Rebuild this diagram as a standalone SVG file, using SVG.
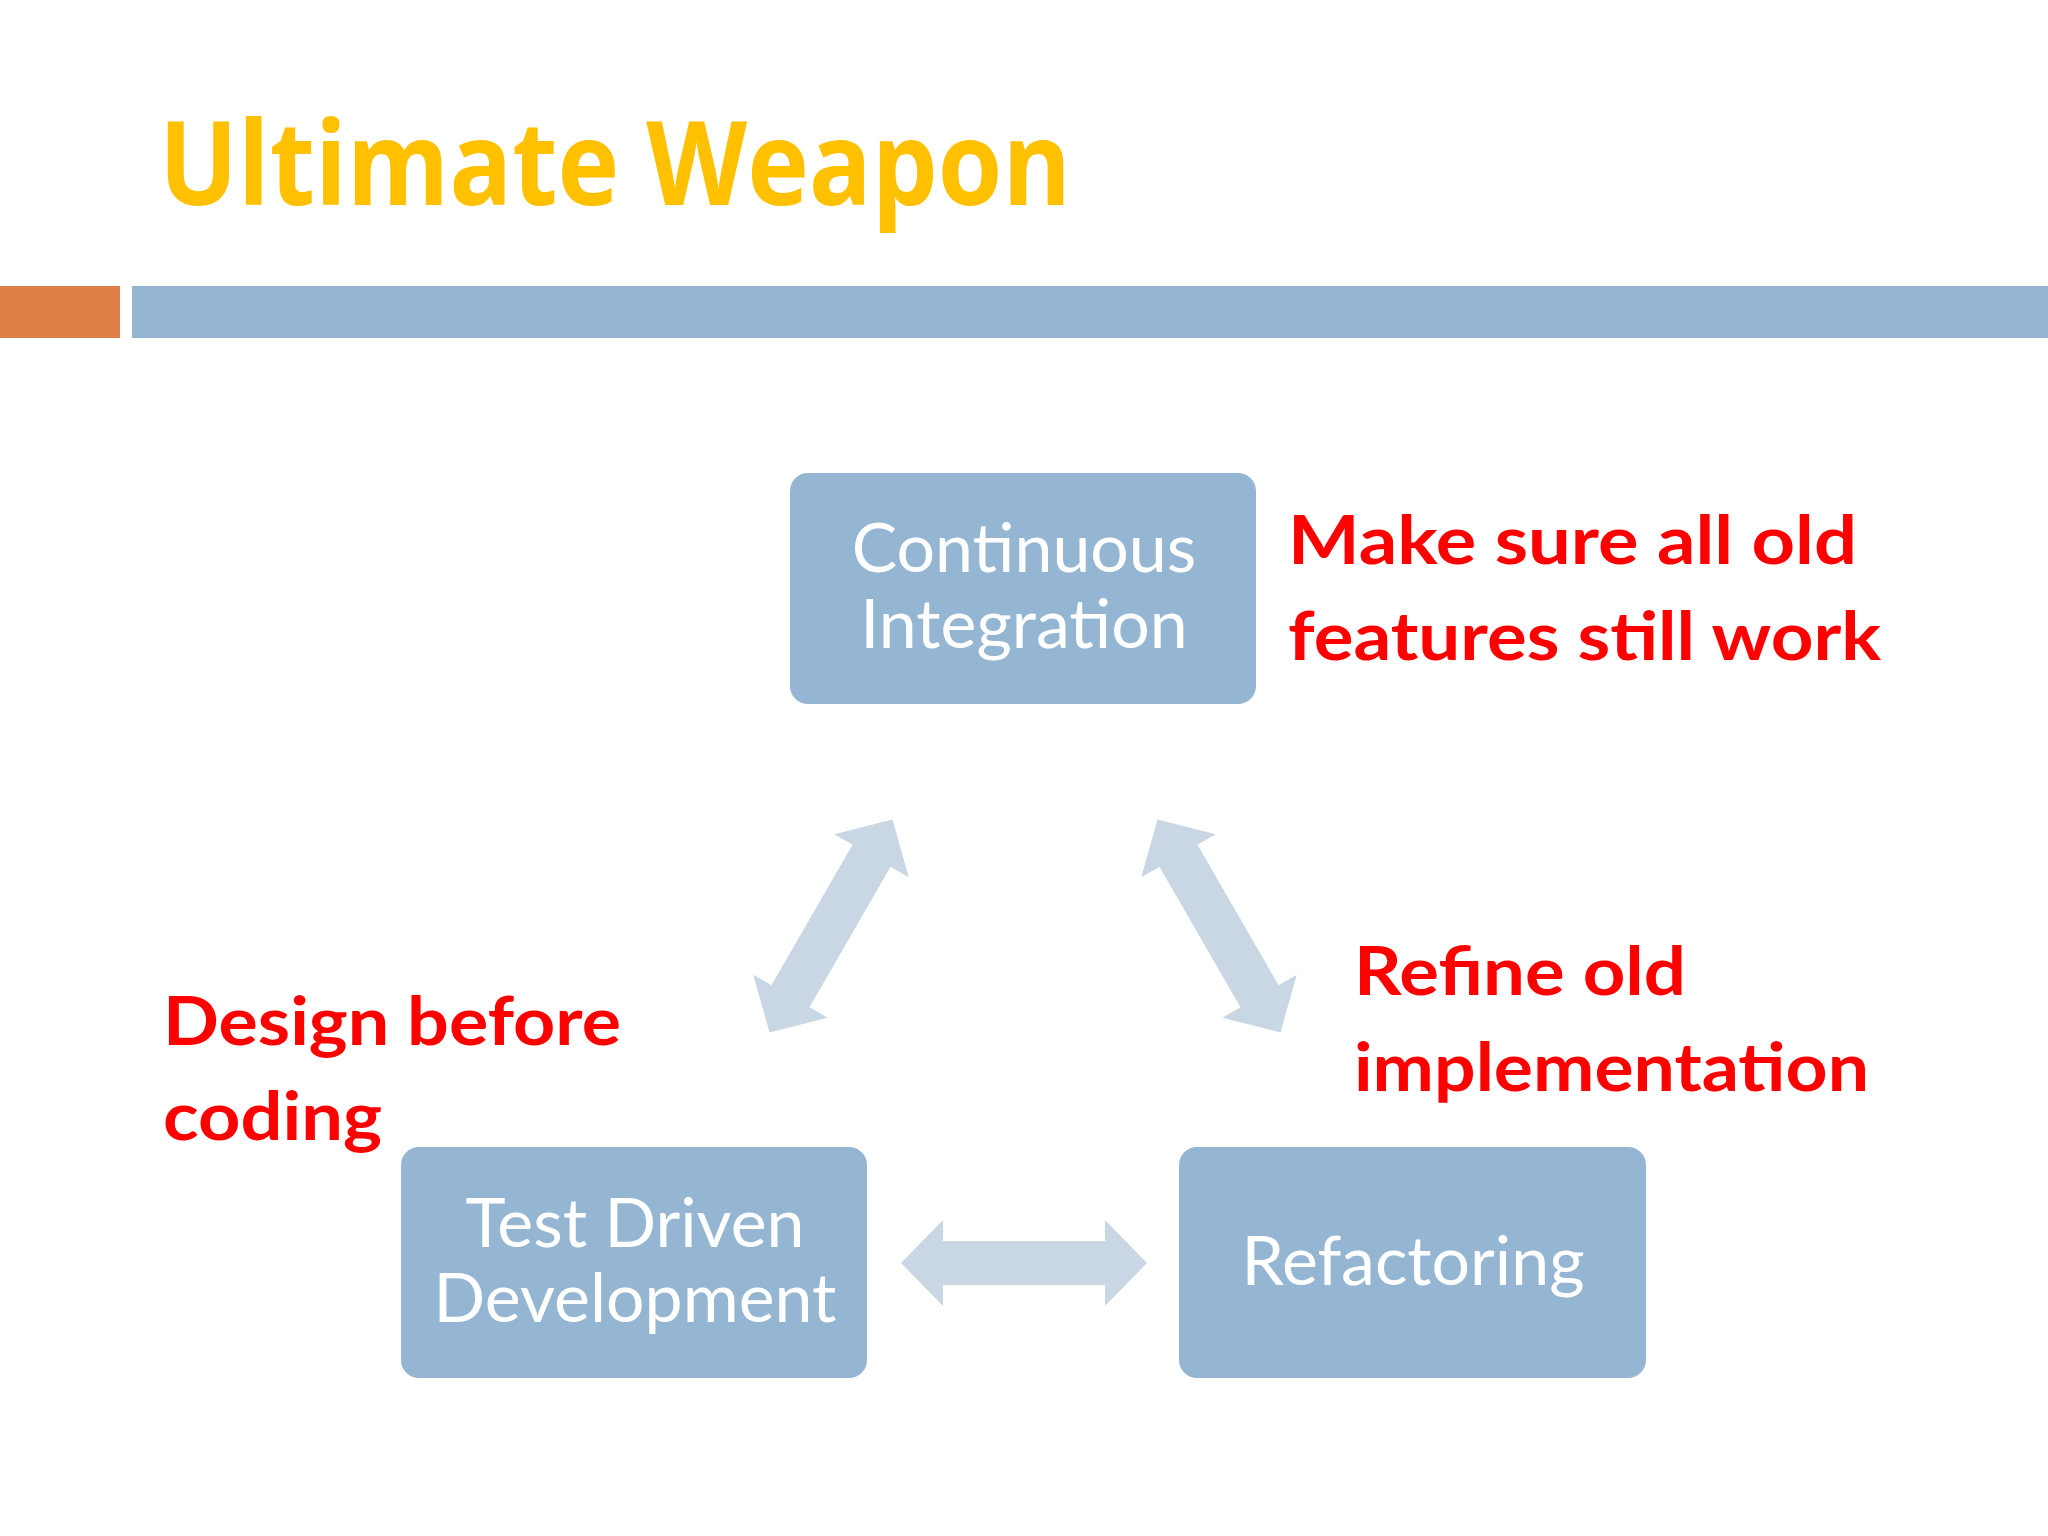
<svg xmlns="http://www.w3.org/2000/svg" xmlns:xlink="http://www.w3.org/1999/xlink" width="2048" height="1536" viewBox="0 0 2048 1536">
<style>
.box{fill:#95B6D3}
.bt{fill:#fff;font-family:Lato,"Open Sans",sans-serif;font-size:68px;text-anchor:middle}
.red{fill:#FF0000;font-family:Lato,"Liberation Sans",sans-serif;font-weight:bold;font-size:66px}
.arr{fill:#C9D7E4}
</style>
<defs>
<path id="dbl" d="M-123,0 L-81,-43 L-81,-22 L81,-22 L81,-43 L123,0 L81,43 L81,22 L-81,22 L-81,43 Z"/>
</defs>
<rect width="2048" height="1536" fill="#fff"/>
<text x="159" y="205" font-family="'Open Sans','Liberation Sans',sans-serif" font-weight="bold" font-size="116" fill="#FFC000" textLength="912" lengthAdjust="spacingAndGlyphs">Ultimate Weapon</text>
<rect x="0" y="286" width="120" height="52" fill="#DD8047"/>
<rect x="132" y="286" width="1916" height="52" fill="#94B6D2"/>
<g id="connectors" class="arr">
<use xlink:href="#dbl" transform="translate(1024,1263)"/>
<use xlink:href="#dbl" transform="translate(831,926) rotate(-60)"/>
<use xlink:href="#dbl" transform="translate(1219,926) rotate(60)"/>
</g>
<g id="ci"><rect class="box" x="790" y="473" width="466" height="231" rx="18"/>
<text class="bt" x="1024" y="572">Continuous</text><text class="bt" x="1024" y="648">Integration</text></g>
<g id="tdd"><rect class="box" x="401" y="1147" width="466" height="231" rx="18"/>
<text class="bt" x="635" y="1247">Test Driven</text><text class="bt" x="635" y="1322">Development</text></g>
<g id="ref"><rect class="box" x="1179" y="1147" width="467" height="231" rx="18"/>
<text class="bt" x="1413" y="1285">Refactoring</text></g>
<g id="notes">
<text class="red" x="1288" y="564" textLength="569" lengthAdjust="spacingAndGlyphs">Make sure all old</text>
<text class="red" x="1288" y="660" textLength="593" lengthAdjust="spacingAndGlyphs">features still work</text>
<text class="red" x="1354" y="995" textLength="332" lengthAdjust="spacingAndGlyphs">Refine old</text>
<text class="red" x="1354" y="1091" textLength="515" lengthAdjust="spacingAndGlyphs">implementation</text>
<text class="red" x="163" y="1045" textLength="458" lengthAdjust="spacingAndGlyphs">Design before</text>
<text class="red" x="163" y="1140" textLength="219" lengthAdjust="spacingAndGlyphs">coding</text>
</g>
</svg>
